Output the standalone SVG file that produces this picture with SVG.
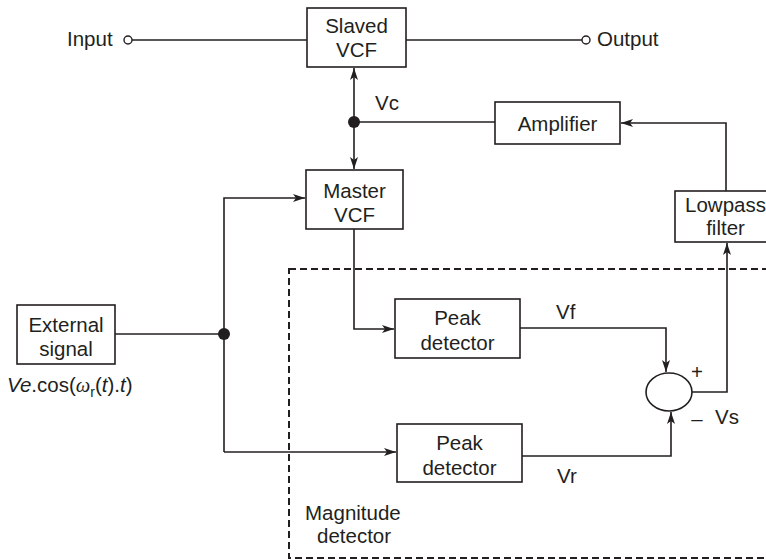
<svg xmlns="http://www.w3.org/2000/svg" width="766" height="560" viewBox="0 0 766 560">
<style>
.box{fill:#fff;stroke:#231f20;stroke-width:1.6}
.t{font-family:"Liberation Sans",Arial,sans-serif;font-size:20.5px;fill:#231f20}
.c{text-anchor:middle}
.w{fill:none;stroke:#231f20;stroke-width:1.6}
.dash{fill:none;stroke:#231f20;stroke-width:2;stroke-dasharray:7 4}
</style>
<defs>
<marker id="ah" markerUnits="userSpaceOnUse" markerWidth="14" markerHeight="10" refX="12" refY="4" orient="auto-start-reverse">
<path d="M0,0 L12,4 L0,8 L3,4 z" fill="#231f20"/>
</marker>
</defs>
<rect class="dash" x="289" y="269" width="500" height="289"/>
<g id="connectors">
<path class="w" d="M132,40 H307"/>
<path class="w" d="M406,40 H582"/>
<circle cx="128" cy="40" r="4" fill="#fff" stroke="#231f20" stroke-width="1.4"/>
<circle cx="586" cy="40" r="4" fill="#fff" stroke="#231f20" stroke-width="1.4"/>
<path class="w" d="M354,68 V169" marker-start="url(#ah)" marker-end="url(#ah)"/>
<path class="w" d="M354,122 H495"/>
<circle cx="354" cy="122" r="6" fill="#231f20"/>
<path class="w" d="M726,191 V123 H621" marker-end="url(#ah)"/>
<path class="w" d="M115,334 H224"/>
<path class="w" d="M224,452 V198 H305" marker-end="url(#ah)"/>
<path class="w" d="M224,452 H396" marker-end="url(#ah)"/>
<circle cx="224" cy="334" r="6" fill="#231f20"/>
<path class="w" d="M354,229 V329 H394" marker-end="url(#ah)"/>
<path class="w" d="M520,328 H666 V372" marker-end="url(#ah)"/>
<path class="w" d="M522,456 H671 V412" marker-end="url(#ah)"/>
<path class="w" d="M692,392 H727 V243" marker-end="url(#ah)"/>
</g>
<g id="slaved-vcf">
<rect class="box" x="307" y="8" width="99" height="59"/>
<text class="t c" x="356.5" y="33">Slaved</text>
<text class="t c" x="356.5" y="57">VCF</text>
</g>
<g id="input"><text class="t" x="67" y="46">Input</text></g>
<g id="output"><text class="t" x="597" y="46">Output</text></g>
<g id="vc"><text class="t" x="375" y="110">Vc</text></g>
<g id="amplifier">
<rect class="box" x="495" y="102" width="125" height="42"/>
<text class="t c" x="557.5" y="131">Amplifier</text>
</g>
<g id="master-vcf">
<rect class="box" x="306" y="170" width="97" height="59"/>
<text class="t c" x="354.5" y="198">Master</text>
<text class="t c" x="354.5" y="222">VCF</text>
</g>
<g id="lowpass">
<rect class="box" x="675" y="191" width="101" height="51"/>
<text class="t c" x="725.5" y="212">Lowpass</text>
<text class="t c" x="725.5" y="235">filter</text>
</g>
<g id="external">
<rect class="box" x="17" y="305" width="98" height="59"/>
<text class="t c" x="66" y="332">External</text>
<text class="t c" x="66" y="356">signal</text>
<text class="t" x="7" y="392" font-size="21.5"><tspan font-style="italic">Ve</tspan>.cos(<tspan font-style="italic" font-family="'Liberation Serif',serif">ω</tspan><tspan font-size="14" dy="5">r</tspan><tspan dy="-5">(</tspan><tspan font-style="italic">t</tspan>).<tspan font-style="italic">t</tspan>)</text>
</g>
<g id="peak1">
<rect class="box" x="395" y="299" width="125" height="59"/>
<text class="t c" x="457.5" y="325">Peak</text>
<text class="t c" x="457.5" y="350">detector</text>
</g>
<g id="vf"><text class="t" x="556" y="319">Vf</text></g>
<g id="peak2">
<rect class="box" x="397" y="424" width="125" height="58"/>
<text class="t c" x="459.5" y="450">Peak</text>
<text class="t c" x="459.5" y="475">detector</text>
</g>
<g id="vr"><text class="t" x="557" y="483">Vr</text></g>
<g id="summer">
<ellipse class="box" cx="669" cy="392" rx="23" ry="19"/>
<text class="t c" x="697" y="379">+</text>
<text class="t c" x="697" y="426">–</text>
<text class="t" x="715" y="424">Vs</text>
</g>
<g id="magnitude">
<text class="t" x="305" y="520">Magnitude</text>
<text class="t" x="317" y="543">detector</text>
</g>
</svg>
